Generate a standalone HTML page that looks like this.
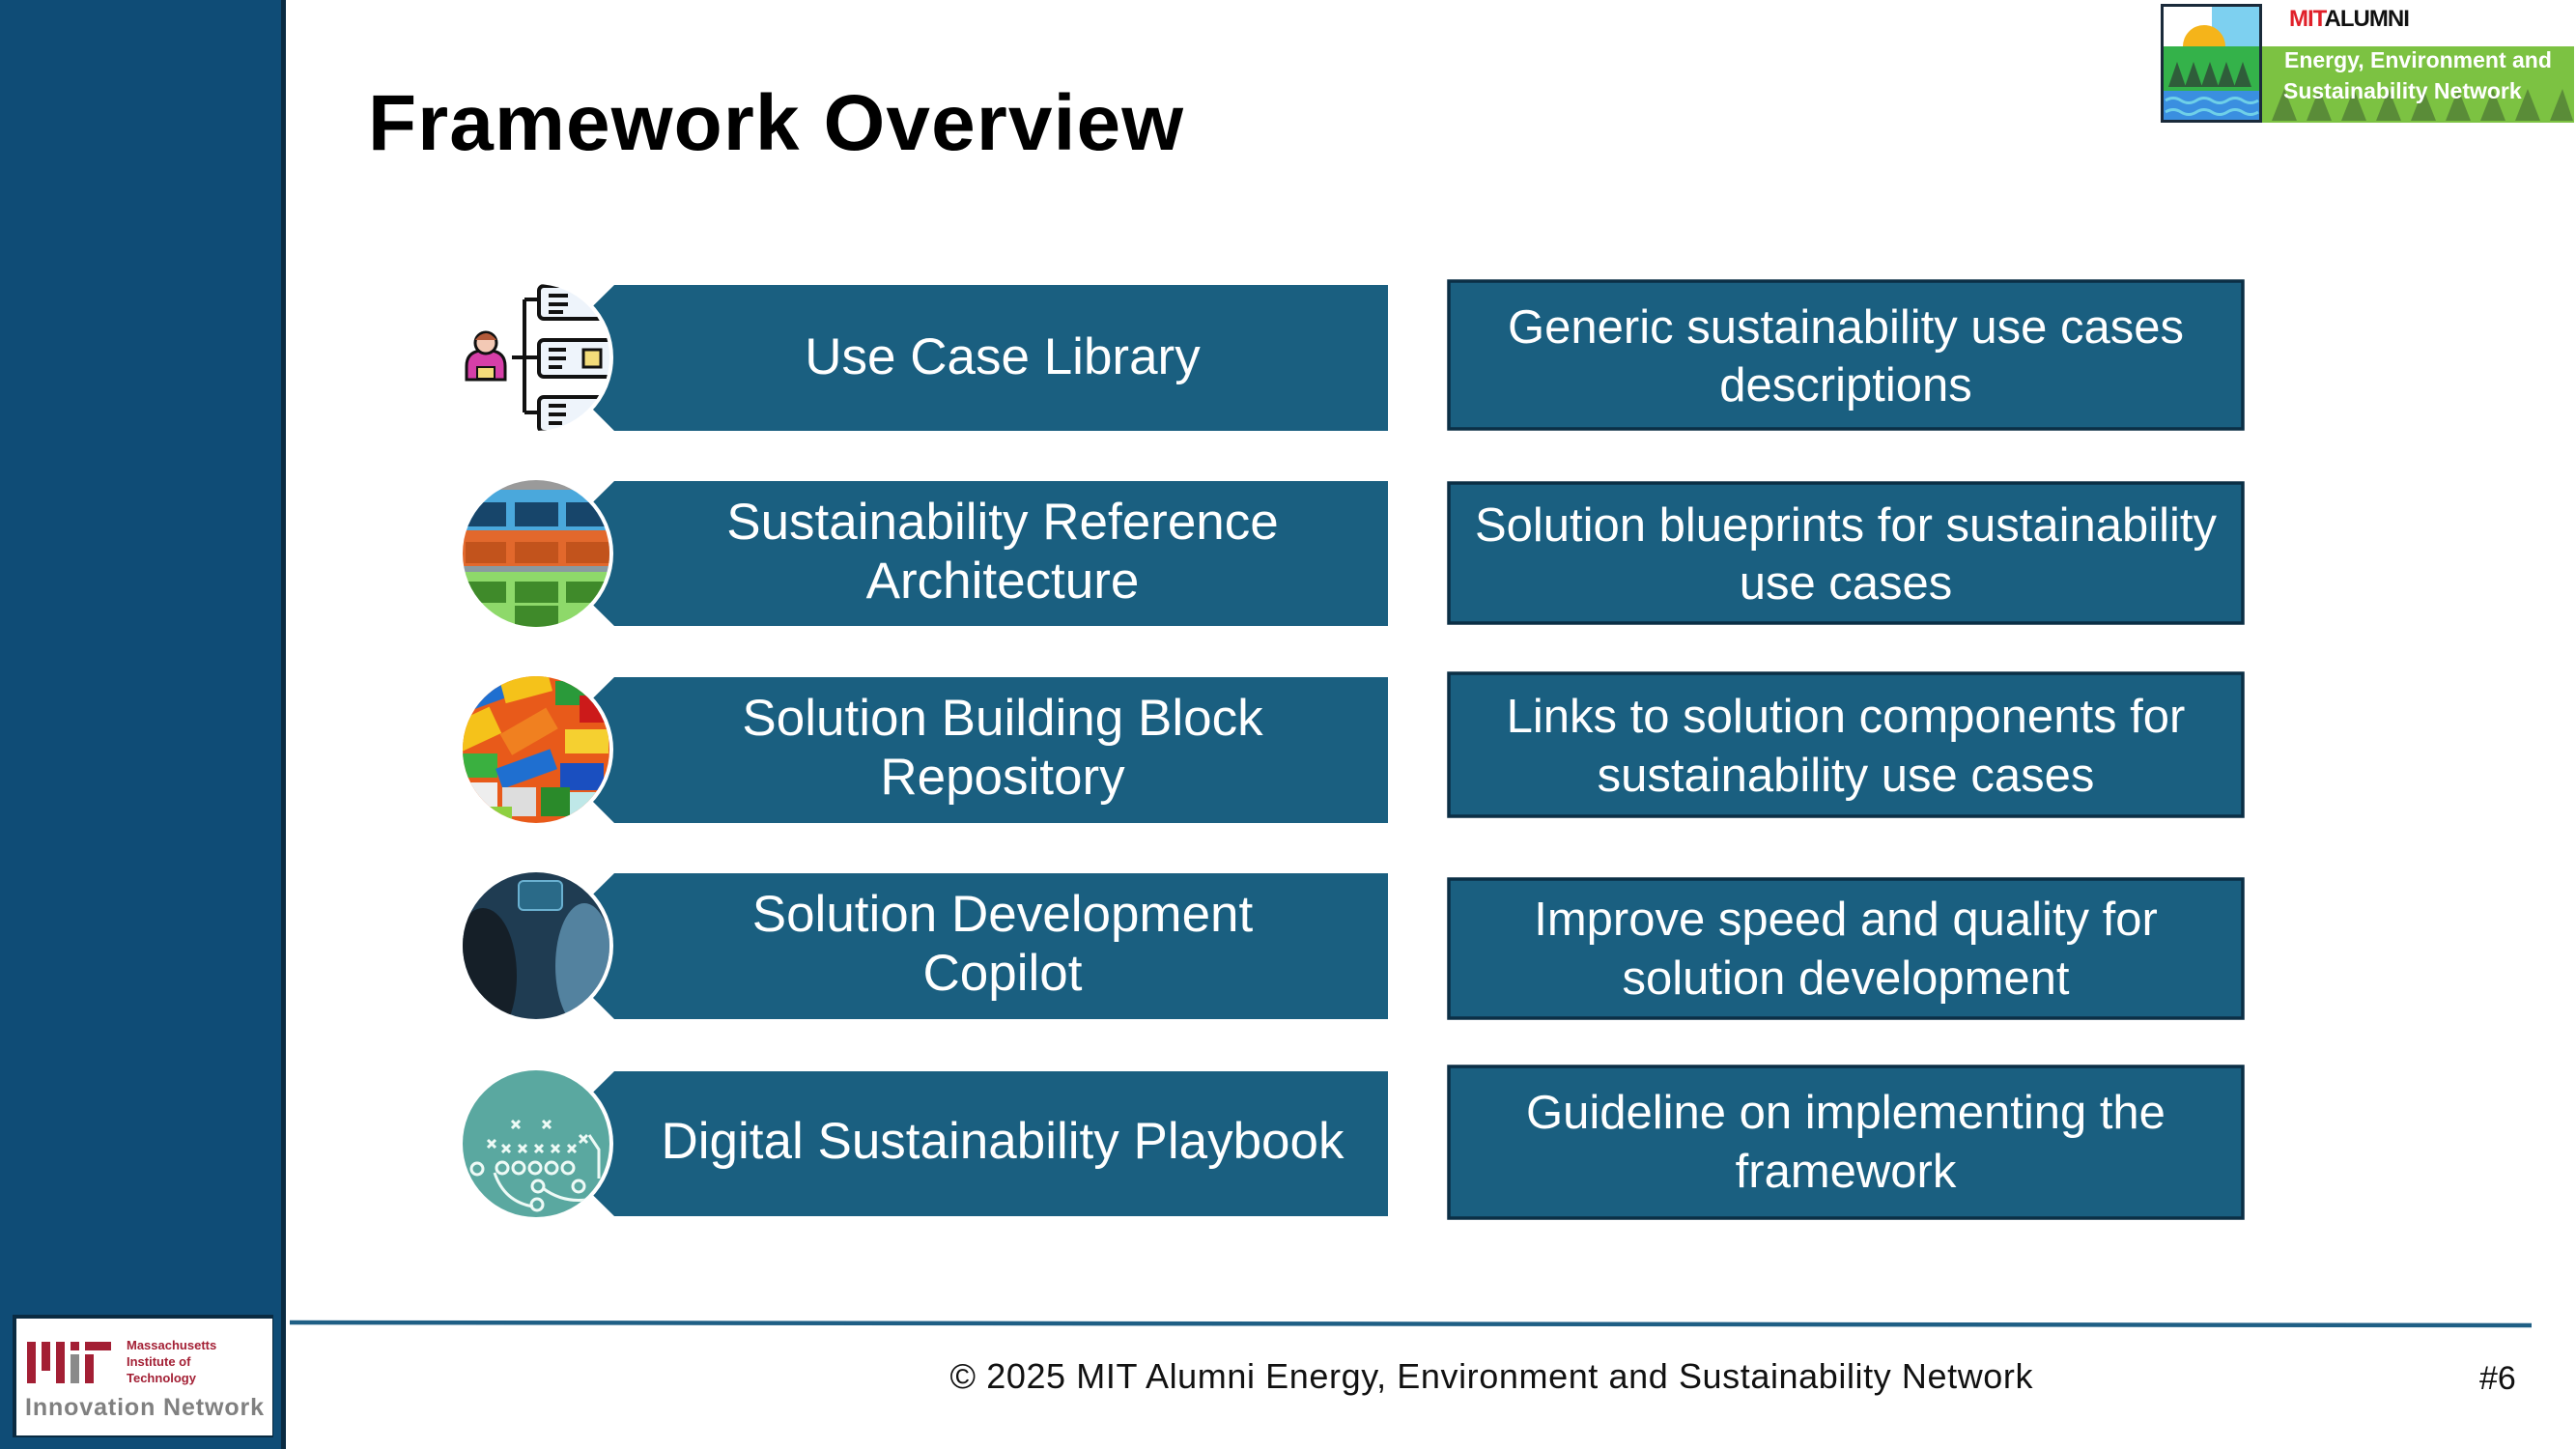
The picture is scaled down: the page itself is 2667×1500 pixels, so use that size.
<!DOCTYPE html>
<html><head><meta charset="utf-8">
<style>
html,body{margin:0;padding:0;background:#fff;}
body{width:2667px;height:1500px;overflow:hidden;position:relative;font-family:"Liberation Sans",sans-serif;}
</style></head>
<body>
<svg width="2667" height="1500" viewBox="0 0 2667 1500" xmlns="http://www.w3.org/2000/svg" style="position:absolute;left:0;top:0">
<defs>
<clipPath id="c1"><circle cx="555" cy="370" r="76"/></clipPath>
<clipPath id="c2"><circle cx="555" cy="573" r="76"/></clipPath>
<clipPath id="c3"><circle cx="555" cy="776" r="76"/></clipPath>
<clipPath id="c4"><circle cx="555" cy="979" r="76"/></clipPath>
<clipPath id="c5"><circle cx="555" cy="1184" r="76"/></clipPath>
</defs>
<rect x="0" y="0" width="295" height="1500" fill="#0f4c76"/>
<rect x="291" y="0" width="5" height="1500" fill="#0a2b42"/>
<rect x="13" y="1361" width="270" height="127" fill="#0a2b42"/>
<rect x="17" y="1365" width="265" height="121" fill="#fff"/>
<g fill="#a31f34">
<rect x="28" y="1389" width="9" height="43"/>
<rect x="43" y="1389" width="9" height="30"/>
<rect x="58" y="1389" width="9" height="43"/>
<rect x="73" y="1389" width="9" height="9"/>
<rect x="88" y="1389" width="27" height="9"/>
<rect x="88" y="1402" width="9" height="30"/>
</g>
<rect x="73" y="1402" width="9" height="30" fill="#8a8a8a"/>
<text x="131" y="1397" font-size="13" font-weight="bold" fill="#a31f34">Massachusetts</text>
<text x="131" y="1414" font-size="13" font-weight="bold" fill="#a31f34">Institute of</text>
<text x="131" y="1431" font-size="13" font-weight="bold" fill="#a31f34">Technology</text>
<text x="26" y="1465" font-size="25" font-weight="bold" fill="#808080" textLength="247">Innovation Network</text>

<rect x="2237" y="4" width="105" height="123" fill="#1a2a3a"/>
<rect x="2240" y="7" width="99" height="44" fill="#fff"/>
<rect x="2290" y="7" width="49" height="44" fill="#7dd0f0"/>
<circle cx="2282" cy="48" r="22" fill="#f5b41a"/>
<rect x="2240" y="48" width="99" height="46" fill="#34b24a"/>
<g fill="#2f5d3a"><polygon points="2245,90 2254,64 2263,90"/><polygon points="2262,90 2271,64 2280,90"/><polygon points="2279,90 2288,64 2297,90"/><polygon points="2296,90 2305,64 2314,90"/><polygon points="2313,90 2322,64 2331,90"/></g>
<rect x="2240" y="94" width="99" height="30" fill="#3a8fe0"/>
<path d="M2242 104 q8 -5 16 0 t16 0 t16 0 t16 0 t16 0 t16 0 M2242 116 q8 -5 16 0 t16 0 t16 0 t16 0 t16 0 t16 0" stroke="#6fd0e8" stroke-width="3" fill="none"/>
<rect x="2342" y="48" width="323" height="79" fill="#7cc242"/>
<g fill="#5a8c38"><polygon points="2352,125 2365,92 2378,125"/><polygon points="2388,125 2401,92 2414,125"/><polygon points="2424,125 2437,92 2450,125"/><polygon points="2460,125 2473,92 2486,125"/><polygon points="2496,125 2509,92 2522,125"/><polygon points="2532,125 2545,92 2558,125"/><polygon points="2568,125 2581,92 2594,125"/><polygon points="2604,125 2617,92 2630,125"/><polygon points="2640,125 2653,92 2664,125"/></g>
<text x="2370" y="27" font-size="24" font-weight="bold" fill="#e0202a" letter-spacing="-1">MIT<tspan fill="#111">ALUMNI</tspan></text>
<text x="2365" y="70" font-size="23" font-weight="bold" fill="#fff">Energy, Environment and</text>
<text x="2364" y="102" font-size="23" font-weight="bold" fill="#fff">Sustainability Network</text>

<text x="381" y="155" font-size="82" font-weight="bold" fill="#000" textLength="844">Framework Overview</text>

<g fill="#1a5f80">
<polygon points="636,295 1437,295 1437,446 636,446 560,370"/>
<polygon points="636,498 1437,498 1437,648 636,648 560,573"/>
<polygon points="636,701 1437,701 1437,852 636,852 560,776"/>
<polygon points="636,904 1437,904 1437,1055 636,1055 560,979"/>
<polygon points="636,1109 1437,1109 1437,1259 636,1259 560,1184"/>
</g>
<g fill="#fff" font-size="53" text-anchor="middle">
<text x="1038" y="387">Use Case Library</text>
<text x="1038" y="558">Sustainability Reference</text>
<text x="1038" y="619">Architecture</text>
<text x="1038" y="761">Solution Building Block</text>
<text x="1038" y="822">Repository</text>
<text x="1038" y="964">Solution Development</text>
<text x="1038" y="1025">Copilot</text>
<text x="1038" y="1199">Digital Sustainability Playbook</text>
</g>

<g fill="#1a5f80" stroke="#0b2f45" stroke-width="3.5">
<rect x="1500" y="291" width="822" height="153"/>
<rect x="1500" y="500" width="822" height="145"/>
<rect x="1500" y="697" width="822" height="148"/>
<rect x="1500" y="910" width="822" height="144"/>
<rect x="1500" y="1104" width="822" height="157"/>
</g>
<g fill="#fff" font-size="49" text-anchor="middle">
<text x="1911" y="355">Generic sustainability use cases</text>
<text x="1911" y="415">descriptions</text>
<text x="1911" y="560">Solution blueprints for sustainability</text>
<text x="1911" y="620">use cases</text>
<text x="1911" y="758">Links to solution components for</text>
<text x="1911" y="819">sustainability use cases</text>
<text x="1911" y="968">Improve speed and quality for</text>
<text x="1911" y="1029">solution development</text>
<text x="1911" y="1168">Guideline on implementing the</text>
<text x="1911" y="1229">framework</text>
</g>

<circle cx="555" cy="370" r="80" fill="#fff"/>
<g clip-path="url(#c1)">
<rect x="470" y="290" width="170" height="160" fill="#fff"/>
<path d="M530 370 H560 M543 310 V427 M543 310 H560 M543 427 H560" stroke="#111" stroke-width="4" fill="none"/>
<g fill="#eef4fb" stroke="#111" stroke-width="4">
<rect x="558" y="296" width="80" height="34" rx="5"/>
<rect x="558" y="352" width="80" height="38" rx="5"/>
<rect x="558" y="411" width="80" height="36" rx="5"/>
</g>
<rect x="604" y="362" width="18" height="18" fill="#f3dc7a" stroke="#111" stroke-width="3"/>
<g stroke="#111" stroke-width="4"><path d="M568 306h20M568 315h20M568 323h15M568 362h18M568 371h18M568 380h14M568 420h18M568 429h18M568 438h14"/></g>
</g>
<path d="M483 393 v-14 q0 -14 14 -16 h12 q14 2 14 16 v14 z" fill="#d63fa8" stroke="#111" stroke-width="3"/>
<circle cx="503" cy="355" r="11" fill="#f3c9b5" stroke="#111" stroke-width="3"/>
<path d="M492 352 q11 -14 22 0" fill="#b35a3a"/>
<rect x="494" y="380" width="18" height="12" fill="#f3dc7a" stroke="#111" stroke-width="2"/>

<circle cx="555" cy="573" r="80" fill="#fff"/>
<g clip-path="url(#c2)">
<rect x="470" y="490" width="170" height="17" fill="#9a9a9a"/>
<rect x="470" y="507" width="170" height="42" fill="#4aa8dc"/>
<g fill="#17456a"><rect x="482" y="520" width="42" height="25"/><rect x="533" y="520" width="45" height="25"/><rect x="586" y="520" width="45" height="25"/></g>
<rect x="470" y="549" width="170" height="37" fill="#e2682c"/>
<g fill="#c2531c"><rect x="482" y="561" width="42" height="22"/><rect x="533" y="561" width="45" height="22"/><rect x="586" y="561" width="45" height="22"/></g>
<rect x="470" y="586" width="170" height="6" fill="#8a9aa0"/>
<rect x="470" y="592" width="170" height="60" fill="#8ed96a"/>
<g fill="#3f8a2a"><rect x="482" y="602" width="42" height="22"/><rect x="533" y="602" width="45" height="22"/><rect x="586" y="602" width="45" height="22"/><rect x="533" y="627" width="45" height="22"/></g>
</g>

<circle cx="555" cy="776" r="80" fill="#fff"/>
<g clip-path="url(#c3)">
<rect x="470" y="690" width="170" height="170" fill="#e85a1a"/>
<rect x="480" y="700" width="40" height="30" fill="#1f6fd0" transform="rotate(-20 500 715)"/>
<rect x="520" y="700" width="50" height="22" fill="#f5c21a" transform="rotate(-15 545 711)"/>
<rect x="575" y="705" width="40" height="25" fill="#2a9a3a"/>
<rect x="600" y="720" width="35" height="28" fill="#cc1a1a"/>
<rect x="470" y="740" width="45" height="30" fill="#f5c21a" transform="rotate(-25 492 755)"/>
<rect x="520" y="745" width="55" height="25" fill="#f08020" transform="rotate(-30 547 757)"/>
<rect x="585" y="755" width="45" height="25" fill="#f5d030"/>
<rect x="475" y="780" width="40" height="25" fill="#3ab040"/>
<rect x="515" y="785" width="60" height="22" fill="#1f6fd0" transform="rotate(-20 545 796)"/>
<rect x="580" y="790" width="45" height="28" fill="#1a4fc0"/>
<rect x="480" y="810" width="35" height="25" fill="#eee"/>
<rect x="520" y="815" width="35" height="30" fill="#ddd"/>
<rect x="560" y="815" width="30" height="30" fill="#2a8a2a"/>
<rect x="590" y="820" width="30" height="25" fill="#bfe8e8"/>
<rect x="490" y="835" width="40" height="25" fill="#8ed040"/>
</g>

<circle cx="555" cy="979" r="80" fill="#fff"/>
<g clip-path="url(#c4)">
<rect x="470" y="895" width="170" height="170" fill="#1f3c52"/>
<ellipse cx="500" cy="1010" rx="35" ry="70" fill="#151f28"/>
<ellipse cx="605" cy="1000" rx="30" ry="65" fill="#6aa0c0" opacity="0.7"/>
<rect x="537" y="912" width="45" height="30" rx="5" fill="#2a6a88" stroke="#6ab0d0" stroke-width="2"/>
</g>

<circle cx="555" cy="1184" r="80" fill="#fff"/>
<g clip-path="url(#c5)">
<rect x="470" y="1100" width="170" height="170" fill="#5aa8a0"/>
<g stroke="#eefaf6" stroke-width="3" fill="none">
<path d="M530 1160l8 8m0-8l-8 8M562 1160l8 8m0-8l-8 8M505 1180l8 8m0-8l-8 8M520 1185l8 8m0-8l-8 8M537 1185l8 8m0-8l-8 8M554 1185l8 8m0-8l-8 8M571 1185l8 8m0-8l-8 8M588 1185l8 8m0-8l-8 8M600 1175l8 8m0-8l-8 8"/>
<circle cx="494" cy="1210" r="6"/><circle cx="520" cy="1209" r="6"/><circle cx="537" cy="1209" r="6"/><circle cx="554" cy="1209" r="6"/><circle cx="571" cy="1209" r="6"/><circle cx="588" cy="1209" r="6"/><circle cx="557" cy="1228" r="6"/><circle cx="556" cy="1247" r="6"/><circle cx="599" cy="1228" r="6"/>
<path d="M512 1214 q10 30 40 35 M562 1230 q20 15 45 12 M620 1220 v-30 l-10 -15"/>
</g>
</g>

<line x1="300" y1="1369" x2="2621" y2="1372" stroke="#1f5f85" stroke-width="4.5"/>
<text x="1544" y="1437" font-size="36" text-anchor="middle" fill="#111" textLength="1121">© 2025 MIT Alumni Energy, Environment and Sustainability Network</text>
<text x="2567" y="1438" font-size="34" fill="#111">#6</text>
</svg>
</body></html>
